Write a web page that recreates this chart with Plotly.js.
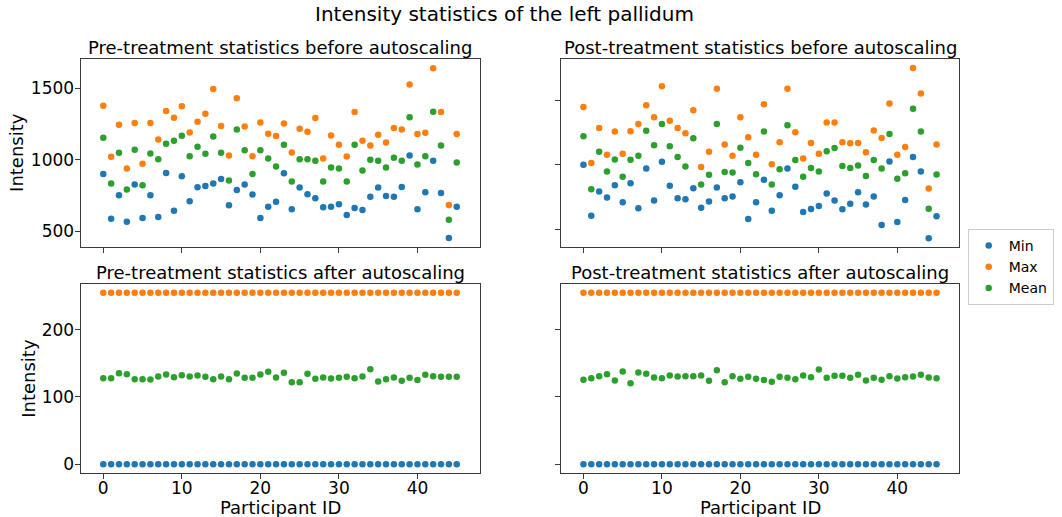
<!DOCTYPE html>
<html>
<head>
<meta charset="utf-8">
<script src="https://cdn.plot.ly/plotly-3.0.1.min.js"></script>
<style>
  html, body { margin: 0; padding: 0; background: #fff; }
  #chart { width: 1062px; height: 517px; }
</style>
</head>
<body>
<div id="chart"></div>
<script>
// Participant identifiers (x axis)
const participants = [0,1,2,3,4,5,6,7,8,9,10,11,12,13,14,15,16,17,18,19,20,21,22,
  23,24,25,26,27,28,29,30,31,32,33,34,35,36,37,38,39,40,41,42,43,44,45];

// Pre-treatment intensities before autoscaling
const preMin = [902,589,752,568,827,593,752,600,909,645,885,710,808,818,834,867,682,790,827,757,593,673,708,
  907,654,806,759,731,668,673,689,614,663,649,743,806,748,743,811,1030,654,773,993,769,453,673];
const preMax = [1379,1021,1245,939,1257,972,1257,1143,1341,1294,1374,1192,1266,1323,1495,1236,1030,1430,1234,1026,1262,1182,1166,
  1255,1051,1217,1196,1292,1009,1171,1105,1023,1334,1133,1100,1175,1122,1222,1213,1526,1180,1189,1640,1334,684,1180];
const preMean = [1154,834,1049,792,1070,822,1044,1005,1112,1133,1168,1026,1091,1042,1164,1049,855,1213,1068,902,1068,1009,953,
  1105,848,1005,1005,993,848,946,939,848,1105,925,1000,993,946,1014,993,1297,967,1026,1337,1100,582,981];

// Post-treatment intensities before autoscaling
const postMin = [1000,606,793,746,842,710,857,663,971,723,1023,837,741,733,819,668,715,824,741,754,865,580,710,
  883,645,764,971,829,635,658,681,777,723,655,699,787,692,754,533,1026,557,728,1060,948,432,601];
const postMax = [1446,1013,1285,1078,1257,1086,1259,1316,1461,1368,1607,1340,1285,1244,1422,982,1101,1588,1156,1070,1368,1213,1078,
  1467,1003,1174,1588,1251,1049,1168,1086,1327,1327,1174,1166,1168,1096,1264,1207,1474,1078,1137,1749,1552,816,1156];
const postMean = [1220,811,1101,948,1041,907,1039,1070,1262,1150,1316,1143,1060,987,1205,847,922,1316,943,940,1132,1013,927,
  1257,847,966,1306,1036,907,974,948,1104,1130,990,974,995,912,1036,971,1238,891,935,1433,1257,660,925];

// After autoscaling to the 0-255 range
const scaledMin = [0,0,0,0,0,0,0,0,0,0,0,0,0,0,0,0,0,0,0,0,0,0,0,0,0,0,0,0,0,0,0,0,0,0,0,0,0,0,0,0,0,0,0,0,0,0];
const scaledMax = [255,255,255,255,255,255,255,255,255,255,255,255,255,255,255,255,255,255,255,255,255,255,255,
  255,255,255,255,255,255,255,255,255,255,255,255,255,255,255,255,255,255,255,255,255,255,255];
const preScaledMean = [128.0,128.0,135.5,134.0,126.5,126.5,126.0,130.5,133.5,129.5,132.5,130.5,132.0,130.0,126.5,130.5,126.5,135.0,128.5,128.5,133.5,137.6,129.0,
  136.0,122.0,122.0,134.5,127.0,129.0,127.5,128.5,130.0,128.0,130.5,141.4,123.0,126.5,129.0,124.0,128.5,125.1,133.0,131.0,130.0,130.0,130.0];
const postScaledMean = [125.5,128.0,131.0,134.0,124.5,137.9,120.6,136.4,134.5,129.0,128.0,132.0,130.5,131.0,131.0,132.0,124.0,139.9,122.0,131.0,127.0,130.0,127.3,
  125.1,122.5,130.0,128.5,126.5,132.0,129.5,140.9,128.5,131.5,131.5,128.5,133.0,124.5,128.5,125.5,131.0,127.5,129.5,130.5,133.0,129.0,128.0];

// Axis tick values
const xTicks = [0, 10, 20, 30, 40];
const rawTicks = [500, 1000, 1500];
const scaledTicks = [0, 100, 200];

const seriesNames = ['Min', 'Max', 'Mean'];
const seriesColors = ['#1f77b4', '#ff7f0e', '#2ca02c'];

const panels = [
  { xa: 'x',  ya: 'y',  data: [preMin, preMax, preMean] },
  { xa: 'x2', ya: 'y2', data: [postMin, postMax, postMean] },
  { xa: 'x3', ya: 'y3', data: [scaledMin, scaledMax, preScaledMean] },
  { xa: 'x4', ya: 'y4', data: [scaledMin, scaledMax, postScaledMean] }
];

const traces = [];
panels.forEach((p, pi) => {
  p.data.forEach((vals, si) => {
    traces.push({
      type: 'scatter',
      mode: 'markers',
      x: participants,
      y: vals,
      xaxis: p.xa,
      yaxis: p.ya,
      name: seriesNames[si],
      showlegend: pi === 0,
      marker: { color: seriesColors[si], size: 6.5, line: { width: 0 } },
      hoverinfo: 'x+y+name'
    });
  });
});

const font = 'DejaVu Sans, sans-serif';

function axis(extra) {
  return Object.assign({
    showline: true, mirror: true, linecolor: '#3a3a3a', linewidth: 1,
    ticks: 'outside', ticklen: 5, tickwidth: 1, tickcolor: '#3a3a3a',
    showgrid: false, zeroline: false, fixedrange: true,
    tickfont: { family: font, size: 17, color: '#000' }
  }, extra);
}

const W = 1062, H = 517;
const xL = [80.5 / W, 479.5 / W];
const xR = [560.7 / W, 959.3 / W];
const yT = [(H - 246.7) / H, (H - 59) / H];
const yB = [(H - 472.7) / H, (H - 284.3) / H];
const xRange = [-2.9, 47.9];
const xStand = -5;
const yStand = -3;

const layout = {
  width: W, height: H,
  margin: { l: 0, r: 0, t: 0, b: 0 },
  paper_bgcolor: '#fff', plot_bgcolor: '#fff',
  font: { family: font, color: '#000' },
  title: {
    text: 'Intensity statistics of the left pallidum',
    x: 504.5 / W, xanchor: 'center', xref: 'paper',
    y: 1 - 14 / H, yanchor: 'middle', yref: 'container',
    font: { family: font, size: 20, color: '#000' }
  },
  xaxis:  axis({ domain: xL, anchor: 'y',  range: xRange, tickvals: xTicks, showticklabels: false }),
  yaxis:  axis({ domain: yT, anchor: 'x',  range: [393, 1705], tickvals: rawTicks, ticklabelstandoff: yStand }),
  xaxis2: axis({ domain: xR, anchor: 'y2', range: xRange, tickvals: xTicks, showticklabels: false }),
  yaxis2: axis({ domain: yT, anchor: 'x2', range: [366, 1818], tickvals: rawTicks, showticklabels: false }),
  xaxis3: axis({ domain: xL, anchor: 'y3', range: xRange, tickvals: xTicks, ticklabelstandoff: xStand }),
  yaxis3: axis({ domain: yB, anchor: 'x3', range: [-12.75, 267.75], tickvals: scaledTicks, ticklabelstandoff: yStand }),
  xaxis4: axis({ domain: xR, anchor: 'y4', range: xRange, tickvals: xTicks, ticklabelstandoff: xStand }),
  yaxis4: axis({ domain: yB, anchor: 'x4', range: [-12.75, 267.75], tickvals: scaledTicks, showticklabels: false }),
  showlegend: true,
  legend: {
    x: 967.7 / W, xanchor: 'left',
    y: (H - 229) / H, yanchor: 'top',
    bordercolor: '#cccccc', borderwidth: 1, bgcolor: '#fff',
    font: { family: font, size: 14, color: '#000' },
    tracegroupgap: 0
  },
  annotations: []
};

// Subplot titles
const subTitles = [
  { text: 'Pre-treatment statistics before autoscaling', x: 280, y: 47.5 },
  { text: 'Post-treatment statistics before autoscaling', x: 760, y: 47.5 },
  { text: 'Pre-treatment statistics after autoscaling', x: 280, y: 272.6 },
  { text: 'Post-treatment statistics after autoscaling', x: 760, y: 272.6 }
];
subTitles.forEach(t => layout.annotations.push({
  text: t.text, xref: 'paper', yref: 'paper',
  x: t.x / W, y: (H - t.y) / H, xanchor: 'center', yanchor: 'middle',
  showarrow: false, font: { family: font, size: 18, color: '#000' }
}));

// Axis titles
[{ x: 17, y: 152.9 }, { x: 28.3, y: 378.5 }].forEach(p => layout.annotations.push({
  text: 'Intensity', xref: 'paper', yref: 'paper', textangle: -90,
  x: p.x / W, y: (H - p.y) / H, xanchor: 'center', yanchor: 'middle',
  showarrow: false, font: { family: font, size: 18, color: '#000' }
}));
[280, 760].forEach(cx => layout.annotations.push({
  text: 'Participant ID', xref: 'paper', yref: 'paper',
  x: cx / W, y: (H - 507.5) / H, xanchor: 'center', yanchor: 'middle',
  showarrow: false, font: { family: font, size: 18, color: '#000' }
}));

Plotly.newPlot('chart', traces, layout, { displayModeBar: false, staticPlot: true });
</script>
</body>
</html>
